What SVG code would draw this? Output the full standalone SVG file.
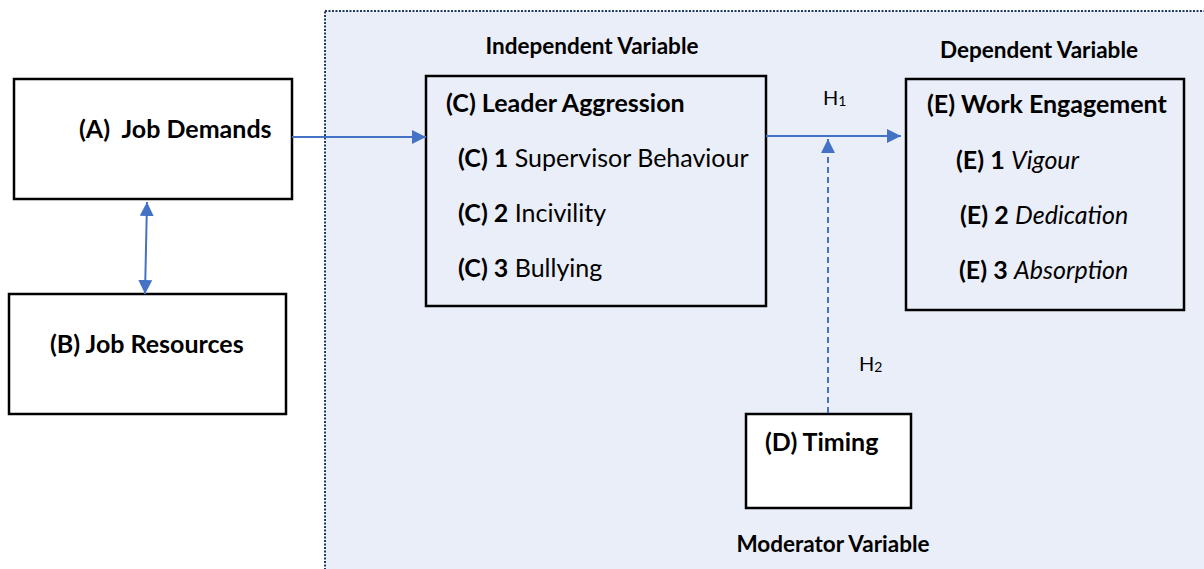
<svg xmlns="http://www.w3.org/2000/svg" width="1204" height="569" viewBox="0 0 1204 569">
<style>
text{font-family:Lato,"Open Sans","Liberation Sans",sans-serif;fill:#000}
.b{font-weight:bold}
.lbl{font-size:22.5px;font-weight:bold}
.t{font-size:25px}
.box{stroke:#000;stroke-width:2.5}
.w{fill:#fff}
.lb{fill:#eaeef8}
.conn{stroke:#4472c4;stroke-width:2;fill:none}
</style>
<defs>
<marker id="ah2" viewBox="0 0 10 10" refX="10" refY="5" markerWidth="14" markerHeight="14" orient="auto-start-reverse" markerUnits="userSpaceOnUse">
<path d="M0,0L10,5L0,10z" fill="#4472c4"/>
</marker>
</defs>
<rect width="1204" height="569" fill="#fff"/>
<g id="region">
<rect x="325" y="11" width="900" height="580" fill="#eaeef8" stroke="#1f3864" stroke-width="2" stroke-dasharray="2,1.5"/>
</g>
<g id="labels">
<text class="lbl" x="592" y="54" text-anchor="middle">Independent Variable</text>
<text class="lbl" x="1039" y="58" text-anchor="middle">Dependent Variable</text>
<text class="lbl" x="833" y="552" text-anchor="middle">Moderator Variable</text>
<text x="823" y="105" font-size="20">H<tspan font-size="14" dy="1">1</tspan></text>
<text x="859" y="371" font-size="20">H<tspan font-size="14" dy="1">2</tspan></text>
</g>
<g id="A">
<rect class="box w" x="14" y="79" width="278" height="120"/>
<text class="t b" x="79" y="138" xml:space="preserve">(A)  Job Demands</text>
</g>
<g id="B">
<rect class="box w" x="9" y="294" width="277" height="120"/>
<text class="t b" x="50" y="353">(B) Job Resources</text>
</g>
<g id="C">
<rect class="box lb" x="426" y="76" width="340" height="230"/>
<text class="t b" x="446" y="112">(C) Leader Aggression</text>
<text class="t" x="458" y="167"><tspan class="b">(C) 1</tspan> Supervisor Behaviour</text>
<text class="t" x="458" y="222"><tspan class="b">(C) 2</tspan> Incivility</text>
<text class="t" x="458" y="277"><tspan class="b">(C) 3</tspan> Bullying</text>
</g>
<g id="E">
<rect class="box lb" x="906" y="79" width="278" height="231"/>
<text class="t b" x="927" y="113">(E) Work Engagement</text>
<text class="t" x="956" y="169"><tspan class="b">(E) 1</tspan> <tspan font-style="italic">Vigour</tspan></text>
<text class="t" x="960" y="224"><tspan class="b">(E) 2</tspan> <tspan font-style="italic">Dedication</tspan></text>
<text class="t" x="959" y="279"><tspan class="b">(E) 3</tspan> <tspan font-style="italic">Absorption</tspan></text>
</g>
<g id="D">
<rect class="box w" x="746" y="414" width="165" height="94"/>
<text class="t b" x="765" y="451">(D) Timing</text>
</g>
<g id="connectors">
<line class="conn" x1="292" y1="137" x2="426" y2="137" marker-end="url(#ah2)"/>
<line class="conn" x1="766" y1="136" x2="901" y2="136" marker-end="url(#ah2)"/>
<line class="conn" x1="828" y1="413" x2="828" y2="139" stroke-dasharray="6,4" marker-end="url(#ah2)"/>
<line class="conn" x1="147" y1="202" x2="145" y2="294" marker-start="url(#ah2)" marker-end="url(#ah2)"/>
</g>
</svg>
